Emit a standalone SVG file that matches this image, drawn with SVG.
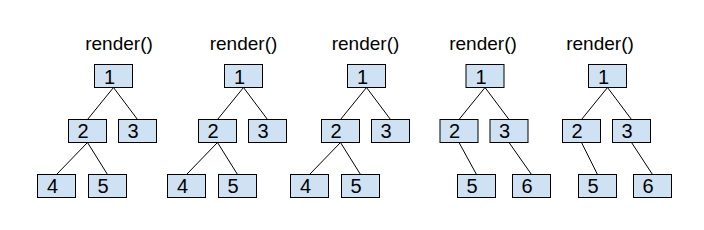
<svg xmlns="http://www.w3.org/2000/svg" width="704" height="230" viewBox="0 0 704 230">
<style>
.n rect{fill:#cfe2f3;stroke:#000;stroke-width:1}
.n text{font-family:"Liberation Sans",Arial,sans-serif;font-size:20px;fill:#000}
.t{font-family:"Liberation Sans",Arial,sans-serif;font-size:19px;fill:#000;text-anchor:middle}
.c line{stroke:#000;stroke-width:1}
</style>
<rect width="704" height="230" fill="#fff"/>
<g id="titles">
<text class="t" x="119" y="49.5">render()</text>
<text class="t" x="243.5" y="49.5">render()</text>
<text class="t" x="365.5" y="49.5">render()</text>
<text class="t" x="483" y="49.5">render()</text>
<text class="t" x="600" y="49.5">render()</text>
</g>
<g class="c" id="connectors">
<line x1="113.5" y1="87.5" x2="87.5" y2="119.5"/>
<line x1="113.5" y1="87.5" x2="137.5" y2="119.5"/>
<line x1="87.5" y1="142.5" x2="56.5" y2="174.5"/>
<line x1="87.5" y1="142.5" x2="107.5" y2="174.5"/>
<line x1="243.5" y1="87.5" x2="217.5" y2="119.5"/>
<line x1="243.5" y1="87.5" x2="267.5" y2="119.5"/>
<line x1="217.5" y1="142.5" x2="186.5" y2="174.5"/>
<line x1="217.5" y1="142.5" x2="237.5" y2="174.5"/>
<line x1="366.5" y1="87.5" x2="340.5" y2="119.5"/>
<line x1="366.5" y1="87.5" x2="390.5" y2="119.5"/>
<line x1="340.5" y1="142.5" x2="309.5" y2="174.5"/>
<line x1="340.5" y1="142.5" x2="360.5" y2="174.5"/>
<line x1="485" y1="87.5" x2="459" y2="119.5"/>
<line x1="485" y1="87.5" x2="509" y2="119.5"/>
<line x1="459" y1="142.5" x2="476.5" y2="174.5"/>
<line x1="509" y1="142.5" x2="531.5" y2="174.5"/>
<line x1="607.5" y1="87.5" x2="581.5" y2="119.5"/>
<line x1="607.5" y1="87.5" x2="631.5" y2="119.5"/>
<line x1="581.5" y1="142.5" x2="597.5" y2="174.5"/>
<line x1="631.5" y1="142.5" x2="652.5" y2="174.5"/>
</g>
<g class="n" id="t1n1"><rect x="94.5" y="64.5" width="38" height="23"/><text x="104" y="83.5">1</text></g>
<g class="n" id="t1n2"><rect x="68.5" y="119.5" width="38" height="23"/><text x="77.5" y="138">2</text></g>
<g class="n" id="t1n3"><rect x="118.5" y="119.5" width="38" height="23"/><text x="127.5" y="138">3</text></g>
<g class="n" id="t1n4"><rect x="37.5" y="174.5" width="38" height="23"/><text x="47" y="192.5">4</text></g>
<g class="n" id="t1n5"><rect x="88.5" y="174.5" width="38" height="23"/><text x="97.5" y="192.5">5</text></g>
<g class="n" id="t2n1"><rect x="224.5" y="64.5" width="38" height="23"/><text x="234" y="83.5">1</text></g>
<g class="n" id="t2n2"><rect x="198.5" y="119.5" width="38" height="23"/><text x="207.5" y="138">2</text></g>
<g class="n" id="t2n3"><rect x="248.5" y="119.5" width="38" height="23"/><text x="257.5" y="138">3</text></g>
<g class="n" id="t2n4"><rect x="167.5" y="174.5" width="38" height="23"/><text x="177" y="192.5">4</text></g>
<g class="n" id="t2n5"><rect x="218.5" y="174.5" width="38" height="23"/><text x="227.5" y="192.5">5</text></g>
<g class="n" id="t3n1"><rect x="347.5" y="64.5" width="38" height="23"/><text x="357" y="83.5">1</text></g>
<g class="n" id="t3n2"><rect x="321.5" y="119.5" width="38" height="23"/><text x="330.5" y="138">2</text></g>
<g class="n" id="t3n3"><rect x="371.5" y="119.5" width="38" height="23"/><text x="380.5" y="138">3</text></g>
<g class="n" id="t3n4"><rect x="290.5" y="174.5" width="38" height="23"/><text x="300" y="192.5">4</text></g>
<g class="n" id="t3n5"><rect x="341.5" y="174.5" width="38" height="23"/><text x="350.5" y="192.5">5</text></g>
<g class="n" id="t4n1"><rect x="466" y="64.5" width="38" height="23"/><text x="475.5" y="83.5">1</text></g>
<g class="n" id="t4n2"><rect x="440" y="119.5" width="38" height="23"/><text x="449" y="138">2</text></g>
<g class="n" id="t4n3"><rect x="490" y="119.5" width="38" height="23"/><text x="499" y="138">3</text></g>
<g class="n" id="t4n5"><rect x="457.5" y="174.5" width="38" height="23"/><text x="466.5" y="192.5">5</text></g>
<g class="n" id="t4n6"><rect x="512.5" y="174.5" width="38" height="23"/><text x="521.5" y="192.5">6</text></g>
<g class="n" id="t5n1"><rect x="588.5" y="64.5" width="38" height="23"/><text x="598" y="83.5">1</text></g>
<g class="n" id="t5n2"><rect x="562.5" y="119.5" width="38" height="23"/><text x="571.5" y="138">2</text></g>
<g class="n" id="t5n3"><rect x="612.5" y="119.5" width="38" height="23"/><text x="621.5" y="138">3</text></g>
<g class="n" id="t5n5"><rect x="578.5" y="174.5" width="38" height="23"/><text x="587.5" y="192.5">5</text></g>
<g class="n" id="t5n6"><rect x="633.5" y="174.5" width="38" height="23"/><text x="642.5" y="192.5">6</text></g>
</svg>
